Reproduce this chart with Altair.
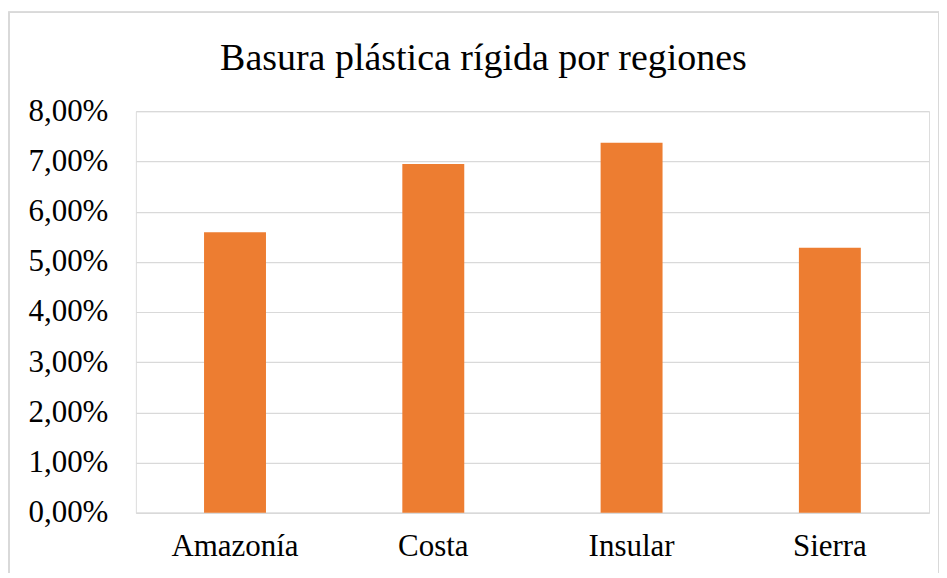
import altair as alt
import pandas as pd

regions = ["Amazonía", "Costa", "Insular", "Sierra"]
values = [0.0559, 0.0695, 0.0737, 0.0528]
y_ticks = [0, 0.01, 0.02, 0.03, 0.04, 0.05, 0.06, 0.07, 0.08]

df = pd.DataFrame({"region": regions, "value": values})

W, H = 794, 402
PL, PT = 128, 103

bars = alt.Chart(df).mark_bar(color="#ED7D31", size=62).encode(
    x=alt.X("region:N", sort=regions, title=None,
            axis=alt.Axis(labelAngle=0, labelFont="Liberation Serif", labelFontSize=31,
                          labelColor="#000000", labelPadding=19, ticks=False,
                          domain=True, domainColor="#d9d9d9", domainWidth=1.5)),
    y=alt.Y("value:Q", title=None,
            scale=alt.Scale(domain=[0, 0.08], nice=False),
            axis=alt.Axis(values=y_ticks, labelExpr="replace(format(datum.value, '.2%'), '.', ',')",
                          labelFont="Liberation Serif", labelFontSize=31, labelColor="#000000",
                          labelPadding=28, ticks=False, domain=False,
                          grid=True, gridColor="#d9d9d9", gridWidth=1.2)),
)

frame = alt.Chart(df).mark_rect(fill=None, stroke="#d9d9d9", strokeWidth=1.5, clip=False).encode(
    x=alt.value(-PL + 1), x2=alt.value(W + 10),
    y=alt.value(-PT + 4), y2=alt.value(H + 66),
)

chart = alt.layer(frame, bars).properties(
    width=W, height=H,
    title=alt.TitleParams("Basura plástica rígida por regiones", font="Liberation Serif",
                          fontSize=38, fontWeight="normal", color="#000000",
                          anchor="middle", dx=-49, offset=-97, baseline="alphabetic"),
    autosize=alt.AutoSizeParams(type="none"),
    padding={"left": PL, "top": PT, "right": 10, "bottom": 60},
).configure_view(stroke=None).configure(background="white")

chart.save("out.html", embed_options={"renderer": "svg", "actions": False})
